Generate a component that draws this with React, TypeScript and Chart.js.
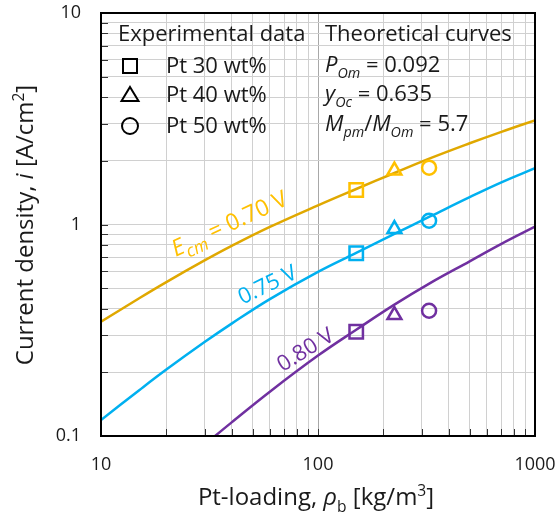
import { useEffect, useRef } from 'react';
import { Chart, registerables } from 'chart.js';

Chart.register(...registerables);

const FONT = '"Open Sans", "Noto Sans", sans-serif';

// Theoretical curves: Pt-loading (kg/m3) vs current density (A/cm2)
const curveX = [10, 15, 20, 30, 40, 60, 100, 150, 225, 330, 500, 700, 1000];
const curve070 = [0.347, 0.448, 0.534, 0.676, 0.792, 0.974, 1.232, 1.472, 1.752, 2.059, 2.421, 2.743, 3.108];
const curve075 = [0.119, 0.1646, 0.206, 0.278, 0.34, 0.444, 0.597, 0.734, 0.903, 1.094, 1.347, 1.583, 1.846];
const curve080X = [30, 40, 60, 100, 150, 225, 330, 500, 700, 1000];
const curve080 = [0.091, 0.116, 0.162, 0.24, 0.318, 0.418, 0.53, 0.67, 0.81, 0.977];

// Experimental data: Pt 30, 40, 50 wt%
const expX = [150, 225, 325];
const exp070 = [1.456, 1.8, 1.856];
const exp075 = [0.731, 0.952, 1.042];
const exp080 = [0.311, 0.373, 0.391];

const xTicks = [10, 20, 30, 40, 50, 60, 70, 80, 90, 100, 200, 300, 400, 500, 600, 700, 800, 900, 1000];
const yTicks = [0.1, 0.2, 0.3, 0.4, 0.5, 0.6, 0.7, 0.8, 0.9, 1, 2, 3, 4, 5, 6, 7, 8, 9, 10];

const YELLOW_LINE = '#E0A800';
const YELLOW = '#FFC000';
const BLUE = '#00B0F0';
const PURPLE = '#7030A0';
const TEXT = '#1a1a1a';

const markerStyles = ['rect', 'triangle', 'circle'];
const markerRadii = [9.5, 8, 7];

type Seg = { t: string; it?: boolean; sub?: boolean; sup?: boolean };

function segFont(s: Seg, size: number, subScale: number) {
  const sz = s.sub || s.sup ? size * subScale : size;
  return `${s.it ? 'italic ' : ''}${sz}px ${FONT}`;
}

function richWidth(ctx: CanvasRenderingContext2D, segs: Seg[], size: number, subScale: number) {
  let w = 0;
  for (const s of segs) {
    ctx.font = segFont(s, size, subScale);
    w += ctx.measureText(s.t).width;
  }
  return w;
}

function drawRich(
  ctx: CanvasRenderingContext2D,
  segs: Seg[],
  x: number,
  y: number,
  size: number,
  color: string,
  align: 'left' | 'center' = 'left',
  subScale = 0.65
) {
  ctx.save();
  ctx.fillStyle = color;
  ctx.textBaseline = 'alphabetic';
  ctx.textAlign = 'left';
  let cx = align === 'center' ? x - richWidth(ctx, segs, size, subScale) / 2 : x;
  for (const s of segs) {
    ctx.font = segFont(s, size, subScale);
    const dy = s.sub ? size * 0.28 : s.sup ? -size * 0.38 : 0;
    ctx.fillText(s.t, cx, y + dy);
    cx += ctx.measureText(s.t).width;
  }
  ctx.restore();
}

function drawRotated(
  ctx: CanvasRenderingContext2D,
  segs: Seg[],
  cx: number,
  cy: number,
  deg: number,
  size: number,
  color: string,
  subScale = 0.65
) {
  ctx.save();
  ctx.translate(cx, cy);
  ctx.rotate((deg * Math.PI) / 180);
  drawRich(ctx, segs, 0, size * 0.36, size, color, 'center', subScale);
  ctx.restore();
}

function isDecade(v: number) {
  const l = Math.log10(v);
  return Math.abs(l - Math.round(l)) < 1e-9;
}

const LEGEND_FS = 22;
const TITLE_FS = 24;
const CURVE_FS = 22;

const decorations = {
  id: 'decorations',
  afterDraw(chart: Chart) {
    const ctx = chart.ctx;
    const { left, right, top, bottom } = chart.chartArea;
    const xs = chart.scales.x;
    const ys = chart.scales.y;

    // inner tick marks on left and bottom axes
    ctx.save();
    ctx.strokeStyle = '#333';
    ctx.lineWidth = 1;
    ctx.beginPath();
    for (const v of yTicks) {
      const py = Math.round(ys.getPixelForValue(v)) + 0.5;
      ctx.moveTo(left, py);
      ctx.lineTo(left + 7, py);
    }
    for (const v of xTicks) {
      const px = Math.round(xs.getPixelForValue(v)) + 0.5;
      ctx.moveTo(px, bottom);
      ctx.lineTo(px, bottom - 7);
    }
    ctx.stroke();

    // plot frame
    ctx.strokeStyle = '#000';
    ctx.lineWidth = 2;
    ctx.strokeRect(left, top, right - left, bottom - top);
    ctx.restore();

    // legend block: experimental data
    drawRich(ctx, [{ t: 'Experimental data' }], 118, 41, LEGEND_FS, TEXT);
    const legendRows = [
      { label: 'Pt 30 wt%', y: 66 },
      { label: 'Pt 40 wt%', y: 95 },
      { label: 'Pt 50 wt%', y: 126 },
    ];
    ctx.save();
    ctx.strokeStyle = '#000';
    ctx.lineWidth = 2;
    legendRows.forEach((r, i) => {
      ctx.beginPath();
      if (i === 0) {
        ctx.rect(123, r.y - 7, 14, 14);
      } else if (i === 1) {
        ctx.moveTo(130, r.y - 8);
        ctx.lineTo(138.5, r.y + 6);
        ctx.lineTo(121.5, r.y + 6);
        ctx.closePath();
      } else {
        ctx.arc(130, r.y, 8, 0, Math.PI * 2);
      }
      ctx.stroke();
    });
    ctx.restore();
    legendRows.forEach((r) => drawRich(ctx, [{ t: r.label }], 166, r.y + 7, LEGEND_FS, TEXT));

    // legend block: theoretical curves
    drawRich(ctx, [{ t: 'Theoretical curves' }], 325, 41, LEGEND_FS, TEXT);
    drawRich(ctx, [{ t: 'P', it: true }, { t: 'Om', it: true, sub: true }, { t: ' = 0.092' }], 325, 72, LEGEND_FS, TEXT);
    drawRich(ctx, [{ t: 'y', it: true }, { t: 'Oc', it: true, sub: true }, { t: ' = 0.635' }], 325, 101, LEGEND_FS, TEXT);
    drawRich(
      ctx,
      [
        { t: 'M', it: true },
        { t: 'pm', it: true, sub: true },
        { t: '/' },
        { t: 'M', it: true },
        { t: 'Om', it: true, sub: true },
        { t: ' = 5.7' },
      ],
      325,
      131,
      LEGEND_FS,
      TEXT
    );

    // curve labels
    drawRotated(
      ctx,
      [{ t: 'E', it: true }, { t: 'cm', it: true, sub: true }, { t: ' = 0.70 V' }],
      229,
      223,
      -25,
      23,
      YELLOW,
      0.75
    );
    drawRotated(ctx, [{ t: '0.75 V' }], 267, 284, -26, CURVE_FS, BLUE);
    drawRotated(ctx, [{ t: '0.80 V' }], 305, 349, -32, CURVE_FS, PURPLE);

    // axis titles
    drawRich(
      ctx,
      [{ t: 'Pt-loading, ' }, { t: 'ρ', it: true }, { t: 'b', sub: true }, { t: ' [kg/m' }, { t: '3', sup: true }, { t: ']' }],
      316,
      505,
      TITLE_FS,
      TEXT,
      'center'
    );
    ctx.save();
    ctx.translate(33, 225);
    ctx.rotate(-Math.PI / 2);
    drawRich(
      ctx,
      [{ t: 'Current density, ' }, { t: 'i', it: true }, { t: ' [A/cm' }, { t: '2', sup: true }, { t: ']' }],
      0,
      0,
      TITLE_FS,
      TEXT,
      'center'
    );
    ctx.restore();
  },
};

export default function App() {
  const canvasRef = useRef<HTMLCanvasElement | null>(null);

  useEffect(() => {
    document.body.style.margin = '0';
    const canvas = canvasRef.current;
    if (!canvas) return;

    const curve = (xsArr: number[], ysArr: number[], color: string) => ({
      type: 'scatter' as const,
      data: xsArr.map((x, i) => ({ x, y: ysArr[i] })),
      showLine: true,
      borderColor: color,
      borderWidth: 2.5,
      pointRadius: 0,
      tension: 0.4,
      clip: 0,
      order: 2,
    });

    const markers = (ysArr: number[], color: string) => ({
      type: 'scatter' as const,
      data: expX.map((x, i) => ({ x, y: ysArr[i] })),
      showLine: false,
      borderColor: color,
      backgroundColor: 'rgba(0,0,0,0)',
      pointStyle: markerStyles,
      pointRadius: markerRadii,
      pointBorderWidth: 2.5,
      pointBorderColor: color,
      pointBackgroundColor: 'rgba(0,0,0,0)',
      clip: false,
      order: 1,
    });

    const tickFont = { family: FONT, size: 18 };

    const chart = new Chart(canvas, {
      type: 'scatter',
      data: {
        datasets: [
          curve(curveX, curve070, YELLOW_LINE),
          curve(curveX, curve075, BLUE),
          curve(curve080X, curve080, PURPLE),
          markers(exp070, YELLOW),
          markers(exp075, BLUE),
          markers(exp080, PURPLE),
        ] as any,
      },
      options: {
        animation: false,
        responsive: false,
        events: [],
        layout: { padding: { top: 13, right: 22, left: 0, bottom: 0 } },
        plugins: {
          legend: { display: false },
          tooltip: { enabled: false },
        },
        scales: {
          x: {
            type: 'logarithmic',
            min: 10,
            max: 1000,
            afterBuildTicks: (s: any) => {
              s.ticks = xTicks.map((v) => ({ value: v, major: isDecade(v) }));
            },
            afterFit: (s: any) => {
              s.height = 77;
              s.paddingLeft = 0;
              s.paddingRight = 0;
              s.paddingTop = 0;
              s.paddingBottom = 0;
            },
            ticks: {
              autoSkip: false,
              maxRotation: 0,
              padding: 18,
              font: tickFont,
              color: TEXT,
              callback: (v: any) => (isDecade(Number(v)) ? String(Number(v)) : ''),
            },
            grid: {
              drawTicks: false,
              lineWidth: 1,
              color: (c: any) => (c.tick && c.tick.value === 100 ? '#a8a8a8' : '#d0d0d0'),
            },
            border: { display: false },
          },
          y: {
            type: 'logarithmic',
            min: 0.1,
            max: 10,
            afterBuildTicks: (s: any) => {
              s.ticks = yTicks.map((v) => ({ value: v, major: isDecade(v) }));
            },
            afterFit: (s: any) => {
              s.width = 101;
              s.paddingLeft = 0;
              s.paddingRight = 0;
              s.paddingTop = 0;
              s.paddingBottom = 0;
            },
            ticks: {
              autoSkip: false,
              padding: 20,
              font: tickFont,
              color: TEXT,
              callback: (v: any) => (isDecade(Number(v)) ? String(Number(v)) : ''),
            },
            grid: {
              drawTicks: false,
              lineWidth: 1,
              color: '#d0d0d0',
            },
            border: { display: false },
          },
        },
      },
      plugins: [decorations],
    });

    return () => chart.destroy();
  }, []);

  return (
    <div style={{ position: 'fixed', left: 0, top: 0, width: 557, height: 513, background: '#fff' }}>
      <canvas ref={canvasRef} width={557} height={513} />
    </div>
  );
}
